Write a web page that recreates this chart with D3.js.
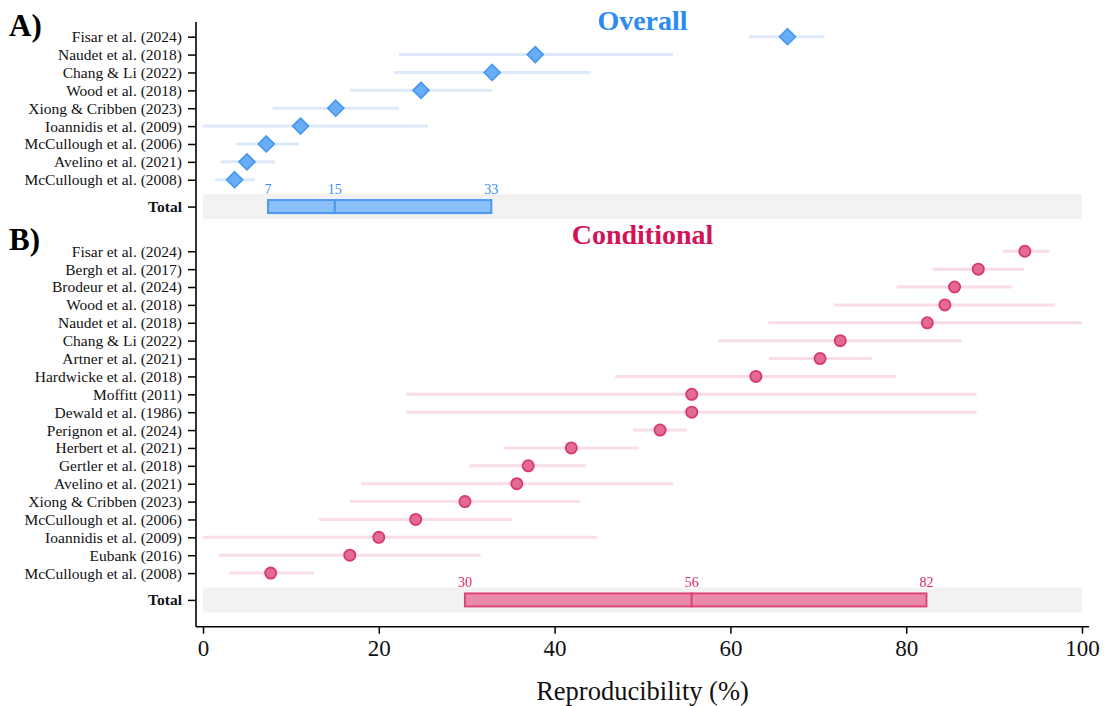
<!DOCTYPE html>
<html>
<head>
<meta charset="utf-8">
<script src="https://cdn.jsdelivr.net/npm/d3@7"></script>
<style>
  html, body { margin: 0; padding: 0; background: #ffffff; }
  svg, svg text { font-family: "Liberation Serif", "DejaVu Serif", serif; }
</style>
</head>
<body>
<svg id="chart" width="1106" height="706"></svg>
<script>
// ---------------- DATA ----------------
const overallStudies = ["Fisar et al. (2024)", "Naudet et al. (2018)", "Chang & Li (2022)", "Wood et al. (2018)",
  "Xiong & Cribben (2023)", "Ioannidis et al. (2009)", "McCullough et al. (2006)", "Avelino et al. (2021)", "McCullough et al. (2008)"];
const overallEst = [66.5, 37.8, 32.9, 24.8, 15.1, 11.1, 7.2, 5.0, 3.6];
const overallLo  = [62.1, 22.3, 21.7, 16.7, 7.9, 0.0, 3.7, 2.0, 1.4];
const overallHi  = [70.7, 53.5, 44.1, 32.9, 22.3, 25.6, 10.9, 8.2, 5.9];
const overallTotal = [7.4, 15.0, 32.8];          // Q1, median, Q3
const overallTotalLabels = ["7", "15", "33"];

const conditionalStudies = ["Fisar et al. (2024)", "Bergh et al. (2017)", "Brodeur et al. (2024)", "Wood et al. (2018)",
  "Naudet et al. (2018)", "Chang & Li (2022)", "Artner et al. (2021)", "Hardwicke et al. (2018)", "Moffitt (2011)",
  "Dewald et al. (1986)", "Perignon et al. (2024)", "Herbert et al. (2021)", "Gertler et al. (2018)", "Avelino et al. (2021)",
  "Xiong & Cribben (2023)", "McCullough et al. (2006)", "Ioannidis et al. (2009)", "Eubank (2016)", "McCullough et al. (2008)"];
const conditionalEst = [93.5, 88.2, 85.5, 84.4, 82.4, 72.5, 70.2, 62.9, 55.6, 55.6, 52.0, 41.9, 37.0, 35.7, 29.8, 24.2, 20.0, 16.7, 7.7];
const conditionalLo  = [91.0, 83.0, 78.9, 71.8, 64.3, 58.6, 64.4, 46.9, 23.1, 23.1, 48.9, 34.3, 30.3, 18.0, 16.7, 13.2, 0.0, 1.8, 3.0];
const conditionalHi  = [96.3, 93.4, 92.0, 96.9, 100.0, 86.3, 76.1, 78.9, 88.0, 88.0, 55.0, 49.6, 43.6, 53.5, 42.9, 35.1, 44.8, 31.6, 12.6];
const conditionalTotal = [29.8, 55.6, 82.3];
const conditionalTotalLabels = ["30", "56", "82"];

const xTicks = [0, 20, 40, 60, 80, 100];
const xTitle = "Reproducibility (%)";
const panelTitles = ["Overall", "Conditional"];
const panelLetters = ["A)", "B)"];

// ---------------- LAYOUT ----------------
const FONT = "'Liberation Serif', 'DejaVu Serif', serif";
const svg = d3.select("#chart");
const x = d3.scaleLinear().domain([0, 100]).range([203, 1082]);
const y = d3.scaleLinear().domain([0, 30]).range([36.7, 573.1]);   // row index -> pixel
const rowStep = y(1) - y(0);

const blue = { title: "#2a8bf2", fill: "#6aadf7", stroke: "#4496ee", ci: "#dce9fa", boxFill: "#8cc0f8", boxStroke: "#4a98f0", label: "#3a8ef0" };
const pink = { title: "#d1145a", fill: "#e36b93", stroke: "#d93a6d", ci: "#fadde6", boxFill: "#e88ba9", boxStroke: "#dd4677", label: "#d42a62" };

const panels = [
  { studies: overallStudies, est: overallEst, lo: overallLo, hi: overallHi, total: overallTotal, totalLabels: overallTotalLabels,
    start: 0, col: blue, shape: "diamond", title: panelTitles[0], letter: panelLetters[0] },
  { studies: conditionalStudies, est: conditionalEst, lo: conditionalLo, hi: conditionalHi, total: conditionalTotal, totalLabels: conditionalTotalLabels,
    start: 12, col: pink, shape: "circle", title: panelTitles[1], letter: panelLetters[1] }
];

// y tick positions & labels
const tickVals = [], tickLab = {}, boldTicks = new Set();
panels.forEach(p => {
  p.studies.forEach((s, i) => { tickVals.push(p.start + i); tickLab[p.start + i] = s; });
  p.totalIdx = p.start + p.studies.length + 0.5;
  tickVals.push(p.totalIdx); tickLab[p.totalIdx] = "Total"; boldTicks.add(p.totalIdx);
});

// gray total bands
panels.forEach(p => {
  svg.append("rect")
    .attr("x", x(0)).attr("width", x(100) - x(0))
    .attr("y", y(p.totalIdx) - rowStep * 0.7).attr("height", rowStep * 1.4)
    .attr("fill", "#f2f2f2");
});

// CI lines + markers
panels.forEach(p => {
  const g = svg.append("g");
  const rows = p.studies.map((s, i) => ({ s, i, est: p.est[i], lo: p.lo[i], hi: p.hi[i] }));
  g.selectAll("line.ci").data(rows).join("line")
    .attr("x1", d => x(d.lo)).attr("x2", d => x(d.hi))
    .attr("y1", d => y(p.start + d.i)).attr("y2", d => y(p.start + d.i))
    .attr("stroke", p.col.ci).attr("stroke-width", 3);
  if (p.shape === "diamond") {
    const h = 8;
    g.selectAll("path.m").data(rows).join("path")
      .attr("d", d => {
        const cx = x(d.est), cy = y(p.start + d.i);
        return `M${cx},${cy - h}L${cx + h},${cy}L${cx},${cy + h}L${cx - h},${cy}Z`;
      })
      .attr("fill", p.col.fill).attr("stroke", p.col.stroke).attr("stroke-width", 1.6);
  } else {
    g.selectAll("circle.m").data(rows).join("circle")
      .attr("cx", d => x(d.est)).attr("cy", d => y(p.start + d.i)).attr("r", 5.6)
      .attr("fill", p.col.fill).attr("stroke", p.col.stroke).attr("stroke-width", 1.8);
  }

  // total box
  const [q1, med, q3] = p.total;
  const cy = y(p.totalIdx), bh = 13;
  g.append("rect").attr("x", x(q1)).attr("width", x(med) - x(q1))
    .attr("y", cy - bh / 2).attr("height", bh)
    .attr("fill", p.col.boxFill).attr("stroke", p.col.boxStroke).attr("stroke-width", 2);
  g.append("rect").attr("x", x(med)).attr("width", x(q3) - x(med))
    .attr("y", cy - bh / 2).attr("height", bh)
    .attr("fill", p.col.boxFill).attr("stroke", p.col.boxStroke).attr("stroke-width", 2);
  g.selectAll("text.ql").data(p.total).join("text")
    .attr("x", d => x(d)).attr("y", cy - bh / 2 - 6)
    .attr("text-anchor", "middle").style("font-family", FONT).style("font-size", "14px")
    .attr("fill", p.col.label)
    .text((d, i) => p.totalLabels[i]);

  // titles
  svg.append("text").attr("x", x(50)).attr("y", y(p.start - 0.4))
    .attr("text-anchor", "middle").style("font-family", FONT).style("font-size", "28px").style("font-weight", "bold")
    .attr("fill", p.col.title).text(p.title);
  svg.append("text").attr("x", 9).attr("y", y(p.start) - 1)
    .style("font-family", FONT).style("font-size", "31px").style("font-weight", "bold").attr("fill", "#000").text(p.letter);
});

// y axis
const yAxisG = svg.append("g").attr("transform", "translate(196,0)")
  .call(d3.axisLeft(y).tickValues(tickVals).tickSize(8).tickPadding(6).tickFormat(d => tickLab[d]));
yAxisG.attr("font-family", null).attr("font-size", null);
yAxisG.select(".domain").remove();
yAxisG.selectAll(".tick line").attr("stroke", "#000").attr("stroke-width", 1.5);
yAxisG.selectAll(".tick text")
  .style("font-family", FONT).style("font-size", "15.5px").attr("fill", "#111")
  .style("font-weight", d => boldTicks.has(d) ? "bold" : "normal");
svg.append("line").attr("x1", 196).attr("x2", 196).attr("y1", y(-0.82)).attr("y2", y(33.0))
  .attr("stroke", "#000").attr("stroke-width", 1.6);

// x axis
const xAxisG = svg.append("g").attr("transform", `translate(0,${y(33.0)})`)
  .call(d3.axisBottom(x).tickValues(xTicks).tickSize(7).tickPadding(6).tickFormat(d3.format("d")));
xAxisG.attr("font-family", null).attr("font-size", null);
xAxisG.select(".domain").remove();
xAxisG.selectAll(".tick line").attr("stroke", "#000").attr("stroke-width", 1.5);
xAxisG.selectAll(".tick text").style("font-family", FONT).style("font-size", "23px").attr("fill", "#111");
svg.append("line").attr("x1", 196).attr("x2", x(100.8)).attr("y1", y(33.0)).attr("y2", y(33.0))
  .attr("stroke", "#000").attr("stroke-width", 1.6);

svg.append("text").attr("x", x(50)).attr("y", 700)
  .attr("text-anchor", "middle").style("font-family", FONT).style("font-size", "26.5px").attr("fill", "#111").text(xTitle);
</script>
</body>
</html>
